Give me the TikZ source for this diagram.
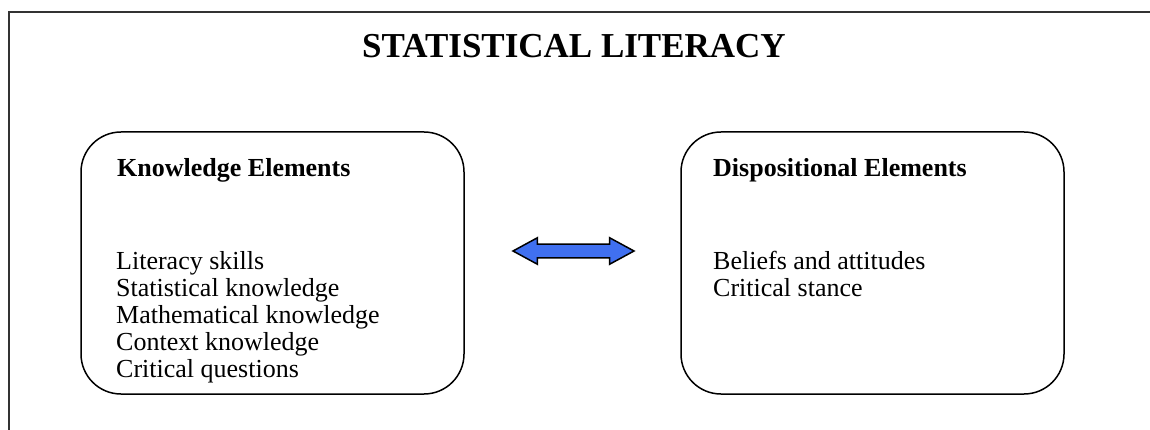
\documentclass[tikz,border=0pt]{standalone}
\usepackage{fontspec}
\setmainfont{Liberation Serif}
\usetikzlibrary{shapes.arrows}
\usetikzlibrary{positioning}
\definecolor{arrowblue}{RGB}{64,112,240}

\begin{document}
\begin{tikzpicture}[x=1pt,y=1pt]
          \tikzstyle{element} = [draw=black, line width=1.5pt, rounded corners=40pt, minimum width=383pt, minimum height=262pt]
          \tikzstyle{heading} = [font=\fontsize{26}{30}\selectfont\bfseries, inner sep=0pt, anchor=west]
          \tikzstyle{items} = [font=\fontsize{26}{27}\selectfont, align=left, inner sep=0pt, anchor=north west]

          \useasboundingbox (0,0) rectangle (1150,-430);

          % Frame
          \draw[line width=1.3pt, color=black!80] (9,-12) rectangle (1170,-450);
          \node[font=\fontsize{35}{40}\selectfont\bfseries] (title) at (574,-46) {STATISTICAL LITERACY};

          % Boxes
          \node[element] (knowledge) at (272.5,-263) {};
          \node[element] (disposition) at (872.5,-263) {};

          % Knowledge Elements
          \node[heading] (khead) at (117,-170) {Knowledge Elements};
          \node[items] (klist) at (116,-251) {Literacy skills\\Statistical knowledge\\Mathematical knowledge\\Context knowledge\\Critical questions};

          % Dispositional Elements
          \node[heading] (dhead) at (713,-170) {Dispositional Elements};
          \node[items] (dlist) at (713,-251) {Beliefs and attitudes\\Critical stance};

          % Link
          \node[double arrow, draw=black, line width=1.5pt, fill=arrowblue, minimum height=121pt, inner xsep=0pt, inner ysep=6pt, double arrow head extend=6.5pt, double arrow tip angle=57] (link) at (573.5,-251) {};

        \end{tikzpicture}
\end{document}
